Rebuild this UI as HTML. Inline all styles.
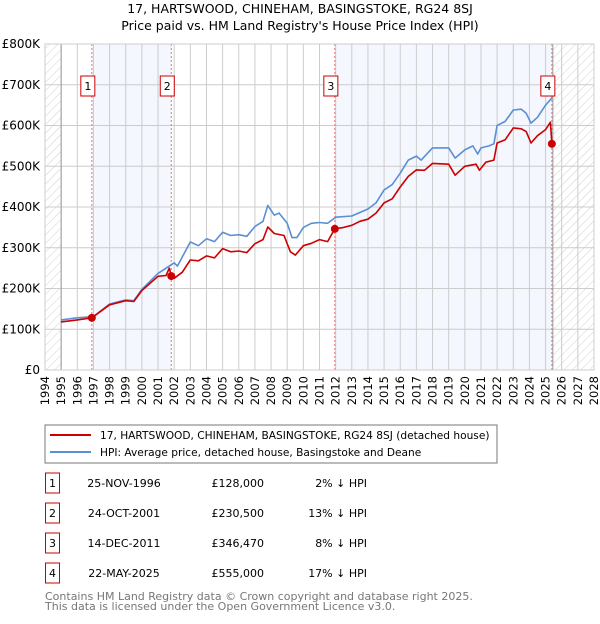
<!DOCTYPE html>
<html><head><meta charset="utf-8"><style>
body{margin:0;background:#fff;font-family:"DejaVu Sans","Liberation Sans",sans-serif;}
svg text{font-family:"DejaVu Sans","Liberation Sans",sans-serif;}
</style></head><body>
<svg id="c" width="600" height="620" xmlns="http://www.w3.org/2000/svg">
<defs><pattern id="hatch" patternUnits="userSpaceOnUse" width="6" height="6" patternTransform="rotate(45)"><line x1="0" y1="0" x2="0" y2="6" stroke="#d0d0d0" stroke-width="1"/></pattern></defs>
<text x="300" y="13" text-anchor="middle" font-size="12.5">17, HARTSWOOD, CHINEHAM, BASINGSTOKE, RG24 8SJ</text>
<text x="300" y="30" text-anchor="middle" font-size="12.5">Price paid vs. HM Land Registry's House Price Index (HPI)</text>
<g id="plot"></g>
<rect x="45" y="425" width="452" height="38" fill="#fff" stroke="#777"/>
<line x1="50" y1="435" x2="91" y2="435" stroke="#cc0000" stroke-width="2"/>
<text x="100" y="439" font-size="10.6">17, HARTSWOOD, CHINEHAM, BASINGSTOKE, RG24 8SJ (detached house)</text>
<line x1="50" y1="452" x2="91" y2="452" stroke="#5b8fd4" stroke-width="2"/>
<text x="100" y="456" font-size="10.6">HPI: Average price, detached house, Basingstoke and Deane</text>
<g id="table" font-size="11"></g>
<text x="45" y="600" font-size="11" fill="#777">Contains HM Land Registry data © Crown copyright and database right 2025.</text>
<text x="45" y="610" font-size="11" fill="#777">This data is licensed under the Open Government Licence v3.0.</text>
</svg>
<script>
const hpiYears=[1995,1996,1997,1998,1999,1999.5,2000,2001,2002,2002.2,2003,2003.5,2004,2004.5,2005,2005.5,2006,2006.5,2007,2007.5,2007.8,2008.2,2008.5,2009,2009.3,2009.6,2010,2010.5,2011,2011.5,2012,2013,2014,2014.5,2015,2015.5,2016,2016.5,2017,2017.3,2018,2019,2019.4,2020,2020.5,2020.8,2021,2021.5,2021.8,2022,2022.5,2023,2023.5,2023.8,2024.1,2024.5,2025,2025.4];
const hpiValues=[123,128,131,162,172,170,198,237,263,255,314,305,322,315,338,330,332,328,352,365,404,380,385,360,325,325,350,360,362,360,375,378,395,410,442,455,483,515,525,515,545,545,520,540,550,530,545,550,555,600,610,638,640,630,606,620,650,668];
const propYears=[1995,1996,1996.9,1998,1999,1999.5,2000,2001,2001.5,2001.7,2001.82,2002,2002.5,2003,2003.5,2004,2004.5,2005,2005.5,2006,2006.5,2007,2007.5,2007.8,2008.2,2008.8,2009.2,2009.5,2010,2010.5,2011,2011.5,2011.95,2012.5,2013,2013.5,2014,2014.5,2015,2015.5,2016,2016.5,2017,2017.5,2018,2019,2019.4,2020,2020.7,2020.9,2021.3,2021.8,2022,2022.5,2023,2023.5,2023.8,2024.1,2024.5,2025,2025.3,2025.39];
const propValues=[118,123,128,160,170,168,195,230,232,250,230.5,225,240,270,268,280,275,298,290,292,288,310,320,351,335,330,290,282,305,311,320,315,346.5,350,355,365,370,385,410,420,449,475,491,490,507,505,478,500,505,490,510,515,557,565,594,592,585,557,575,590,608,555];
const saleYears=[1996.9,2001.82,2011.95,2025.39];
const saleLabels=["1","2","3","4"];
const saleDates=["25-NOV-1996","24-OCT-2001","14-DEC-2011","22-MAY-2025"];
const salePrices=["£128,000","£230,500","£346,470","£555,000"];
const saleDiffs=["2% ↓ HPI","13% ↓ HPI","8% ↓ HPI","17% ↓ HPI"];
const salePriceValues=[128,230.5,346.47,555];
const yTicks=[0,100,200,300,400,500,600,700,800];
const yTickLabels=["£0","£100K","£200K","£300K","£400K","£500K","£600K","£700K","£800K"];
const xStart=1994,xEnd=2028;

const NS="http://www.w3.org/2000/svg";
const L=45,R=594,T=44,B=370;
const sx=y=>L+(y-xStart)/(xEnd-xStart)*(R-L);
const sy=v=>B-v/800*(B-T);
const g=document.getElementById('plot');
function mk(tag,attrs,parent){const e=document.createElementNS(NS,tag);for(const k in attrs)e.setAttribute(k,attrs[k]);(parent||g).appendChild(e);return e;}
let e;
e=mk('rect',{x:L,y:T,width:R-L,height:B-T,fill:'#fff'});


e=mk('rect',{x:sx(saleYears[0]),y:T,width:sx(saleYears[1])-sx(saleYears[0]),height:B-T,fill:'#f4f7fe'});


e=mk('rect',{x:sx(saleYears[2]),y:T,width:sx(saleYears[3])-sx(saleYears[2]),height:B-T,fill:'#f4f7fe'});


e=mk('rect',{x:L,y:T,width:sx(1995)-L,height:B-T,fill:'url(#hatch)'});


e=mk('rect',{x:sx(saleYears[3]),y:T,width:R-sx(saleYears[3]),height:B-T,fill:'url(#hatch)'});


for(let yr=xStart;yr<=xEnd;yr++){
  e=mk('line',{x1:sx(yr),x2:sx(yr),y1:T,y2:B,stroke:'#ccc','stroke-width':1});
  
  
  const x=sx(yr)+4;
  e=mk('text',{x:x,y:376,'font-size':11.5,'text-anchor':'end',transform:`rotate(-90 ${x} 376)`});
  e.textContent=yr;
  
  
}
yTicks.forEach((v,i)=>{
  e=mk('line',{x1:L,x2:R,y1:sy(v),y2:sy(v),stroke:'#ccc','stroke-width':1});
  
  
  e=mk('text',{x:40,y:sy(v)+4,'font-size':12,'text-anchor':'end'});
  e.textContent=yTickLabels[i];
  
  
});
e=mk('line',{x1:sx(1995),x2:sx(1995),y1:T,y2:B,stroke:'#999'});


e=mk('line',{x1:sx(saleYears[3])+1,x2:sx(saleYears[3])+1,y1:T,y2:B,stroke:'#999'});


saleYears.forEach((yr,i)=>{
  e=mk('line',{x1:sx(yr),x2:sx(yr),y1:T,y2:B,stroke:'#f07070','stroke-width':1,'stroke-dasharray':'2,2'});
  
  
});
const pts=(xs,vs)=>xs.map((x,i)=>sx(x).toFixed(1)+','+sy(vs[i]).toFixed(1)).join(' ');
e=mk('polyline',{points:pts(hpiYears,hpiValues),fill:'none',stroke:'#5b8fd4','stroke-width':1.6,'stroke-linejoin':'round'});


e=mk('polyline',{points:pts(propYears,propValues),fill:'none',stroke:'#cc0000','stroke-width':1.6,'stroke-linejoin':'round'});


saleYears.forEach((yr,i)=>{
  e=mk('circle',{cx:sx(yr),cy:sy(salePriceValues[i]),r:4,fill:'#cc0000'});
  
  
  const bx=sx(yr)-4;
  e=mk('rect',{x:bx-7,y:76,width:14,height:20,fill:'#fff',stroke:'#cc0000'});
  
  
  e=mk('text',{x:bx,y:90,'font-size':11,'text-anchor':'middle'});
  e.textContent=saleLabels[i];
  
  
});
e=mk('rect',{x:L,y:T,width:R-L,height:B-T,fill:'none',stroke:'#ccc'});


const tb=document.getElementById('table');
saleLabels.forEach((lab,i)=>{
  const cy=483+i*30;
  e=mk('rect',{x:45.5,y:cy-10,width:14,height:20,fill:'#fff',stroke:'#cc0000'},tb);
  
  
  e=mk('text',{x:52.5,y:cy+4,'text-anchor':'middle'},tb);e.textContent=lab;
  
  
  e=mk('text',{x:124,y:cy+4,'text-anchor':'middle'},tb);e.textContent=saleDates[i];
  
  
  e=mk('text',{x:264,y:cy+4,'text-anchor':'end'},tb);e.textContent=salePrices[i];
  
  
  e=mk('text',{x:367,y:cy+4,'text-anchor':'end'},tb);e.textContent=saleDiffs[i];
  
  
});
</script>
</body></html>
